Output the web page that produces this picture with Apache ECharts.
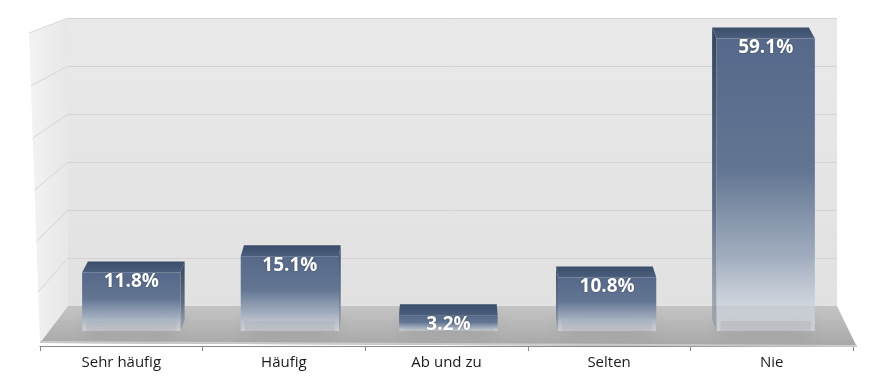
<!DOCTYPE html>
<html>
<head>
<meta charset="utf-8">
<script src="https://cdn.jsdelivr.net/npm/echarts@6/dist/echarts.min.js"></script>
<style>html,body{margin:0;padding:0;background:#fff}#c{width:878px;height:387px}</style>
</head>
<body>
<div id="c"></div>
<script>
var categories = ['Sehr häufig', 'Häufig', 'Ab und zu', 'Selten', 'Nie'];
var values = [11.8, 15.1, 3.2, 10.8, 59.1];
var wallTicks = [0, 10, 20, 30, 40, 50, 60];

var VX = 440;        // vanishing x for bar sides
var BAR_DEPTH = 11;  // top face depth in px
var KD = 0.016;
var WALL_VP = [386, -104];

var chart = echarts.init(document.getElementById('c'));

function decoRender(params, api) {
  var bl = api.coord([0, 0]);
  var br = api.coord([1, 0]);
  var tl = api.coord([0, 60]);
  var fl = [bl[0] - 28, bl[1] + 37];
  var fr = [br[0] + 20, br[1] + 41];
  var sideTop = [tl[0] - 39, tl[1] + 15];
  var children = [];
  children.push({
    type: 'polygon',
    shape: { points: [sideTop, tl, bl, fl] },
    style: { fill: { type: 'linear', x: 0, y: 0, x2: 1, y2: 0, colorStops: [{ offset: 0, color: '#f3f3f3' }, { offset: 1, color: '#e7e7e7' }] } }
  });
  wallTicks.forEach(function (v) {
    if (v === 0 || v === 60) return;
    var p = api.coord([0, v]);
    var dx = p[0] - WALL_VP[0], dy = p[1] - WALL_VP[1];
    var ex = fl[0] - sideTop[0], ey = fl[1] - sideTop[1];
    var det = dx * (-ey) - dy * (-ex);
    var rx = sideTop[0] - p[0], ry = sideTop[1] - p[1];
    var s = (rx * (-ey) - ry * (-ex)) / det;
    var q = [p[0] + s * dx, p[1] + s * dy];
    children.push({ type: 'line', shape: { x1: p[0], y1: p[1], x2: q[0], y2: q[1] }, style: { stroke: '#d6d6d6', lineWidth: 1 } });
  });
  children.push({ type: 'line', shape: { x1: sideTop[0], y1: sideTop[1], x2: tl[0], y2: tl[1] }, style: { stroke: '#d9d9d9', lineWidth: 1 } });
  children.push({
    type: 'polygon',
    shape: { points: [bl, br, fr, fl] },
    style: { fill: { type: 'linear', x: 0, y: 0, x2: 0, y2: 1, colorStops: [{ offset: 0, color: '#c4c4c4' }, { offset: 0.6, color: '#b3b3b3' }, { offset: 1, color: '#a6a6a6' }] } }
  });
  children.push({
    type: 'line', shape: { x1: fl[0], y1: fl[1] - 1, x2: fr[0], y2: fr[1] - 1 },
    style: { stroke: '#cbcbcb', lineWidth: 2 }
  });
  return { type: 'group', children: children };
}

function barRender(params, api) {
  var i = api.value(0), v = api.value(1);
  var top = api.coord([i, v]);
  var bot = api.coord([i, 0]);
  var band = api.size([1, 0])[0];
  var w = band * 0.62;
  var cx = top[0];
  var x0 = cx - w / 2, x1 = cx + w / 2;
  var yT = top[1], yB = bot[1];
  var s0 = (VX - x0) * KD, s1 = (VX - x1) * KD;
  var d = BAR_DEPTH;
  var children = [];
  // soft floor shadow
  children.push({
    type: 'rect',
    shape: { x: x0 + 4, y: yB - 10, width: w - 8, height: 10 },
    style: { fill: 'rgba(90,90,90,0.35)', shadowBlur: 18, shadowColor: 'rgba(70,70,70,0.8)' }
  });
  var side;
  if (cx < VX) {
    side = [[x1, yT], [x1 + s1, yT - d], [x1 + s1, yB - d], [x1, yB]];
  } else {
    side = [[x0, yT], [x0 + s0, yT - d], [x0 + s0, yB - d], [x0, yB]];
  }
  children.push({
    type: 'polygon', shape: { points: side },
    style: { fill: { type: 'linear', x: 0, y: 0, x2: 0, y2: 1, colorStops: [{ offset: 0, color: '#33465f' }, { offset: 0.6, color: '#5d6e86' }, { offset: 1, color: 'rgba(150,158,170,0.7)' }] } }
  });
  children.push({
    type: 'polygon',
    shape: { points: [[x0, yT], [x1, yT], [x1 + s1, yT - d], [x0 + s0, yT - d]] },
    style: { fill: { type: 'linear', x: 0, y: 0, x2: 0, y2: 1, colorStops: [{ offset: 0, color: '#3a4d6b' }, { offset: 1, color: '#4b5e7c' }] } }
  });
  children.push({
    type: 'rect',
    shape: { x: x0, y: yT, width: w, height: yB - yT },
    style: { fill: { type: 'linear', x: 0, y: 0, x2: 0, y2: 1, colorStops: [
      { offset: 0, color: '#56698a' }, { offset: 0.45, color: '#627592' },
      { offset: 0.75, color: 'rgba(156,169,188,0.92)' }, { offset: 1, color: 'rgba(222,227,234,0.6)' }] } }
  });
  children.push({
    type: 'text',
    style: {
      text: api.value(1).toFixed(1) + '%',
      x: cx, y: yT + 9,
      align: 'center', verticalAlign: 'middle',
      fill: '#ffffff',
      font: 'bold 19px "Open Sans", sans-serif',
      textShadowColor: 'rgba(0,0,0,0.35)', textShadowBlur: 2
    }
  });
  return { type: 'group', children: children };
}

chart.setOption({
  animation: false,
  backgroundColor: '#ffffff',
  grid: [
    { left: 68, right: 41, top: 18, bottom: 81, show: true, borderWidth: 0,
      backgroundColor: { type: 'linear', x: 0, y: 0, x2: 0, y2: 1, colorStops: [{ offset: 0, color: '#e9e9e9' }, { offset: 1, color: '#e1e1e1' }] } },
    { left: 52, right: 33, top: 34, bottom: 56 },
    { left: 40, right: 25, top: 34, bottom: 41 }
  ],
  xAxis: [
    { gridIndex: 0, type: 'value', min: 0, max: 1, show: false },
    { gridIndex: 1, type: 'category', data: categories, show: false },
    { gridIndex: 2, type: 'category', data: categories,
      axisLine: { show: true, lineStyle: { color: '#8a8a8a', width: 1 } },
      axisTick: { show: true, length: 5, inside: false, lineStyle: { color: '#8a8a8a' } },
      axisLabel: { color: '#1a1a1a', fontSize: 15, fontFamily: '"Open Sans", sans-serif', margin: 9 } }
  ],
  yAxis: [
    { gridIndex: 0, type: 'value', min: 0, max: 60, interval: 10,
      axisLine: { show: false }, axisTick: { show: false }, axisLabel: { show: false },
      splitLine: { show: true, lineStyle: { color: '#d3d3d3', width: 1 } } },
    { gridIndex: 1, type: 'value', min: 0, max: 60, show: false, splitLine: { show: false } },
    { gridIndex: 2, type: 'value', min: 0, max: 60, show: false, splitLine: { show: false } }
  ],
  series: [
    { type: 'custom', xAxisIndex: 0, yAxisIndex: 0, data: [[0, 0]], renderItem: decoRender, silent: true, z: 1 },
    { type: 'custom', xAxisIndex: 1, yAxisIndex: 1, data: values.map(function (v, i) { return [i, v]; }), renderItem: barRender, z: 5 }
  ]
});
</script>
</body>
</html>
